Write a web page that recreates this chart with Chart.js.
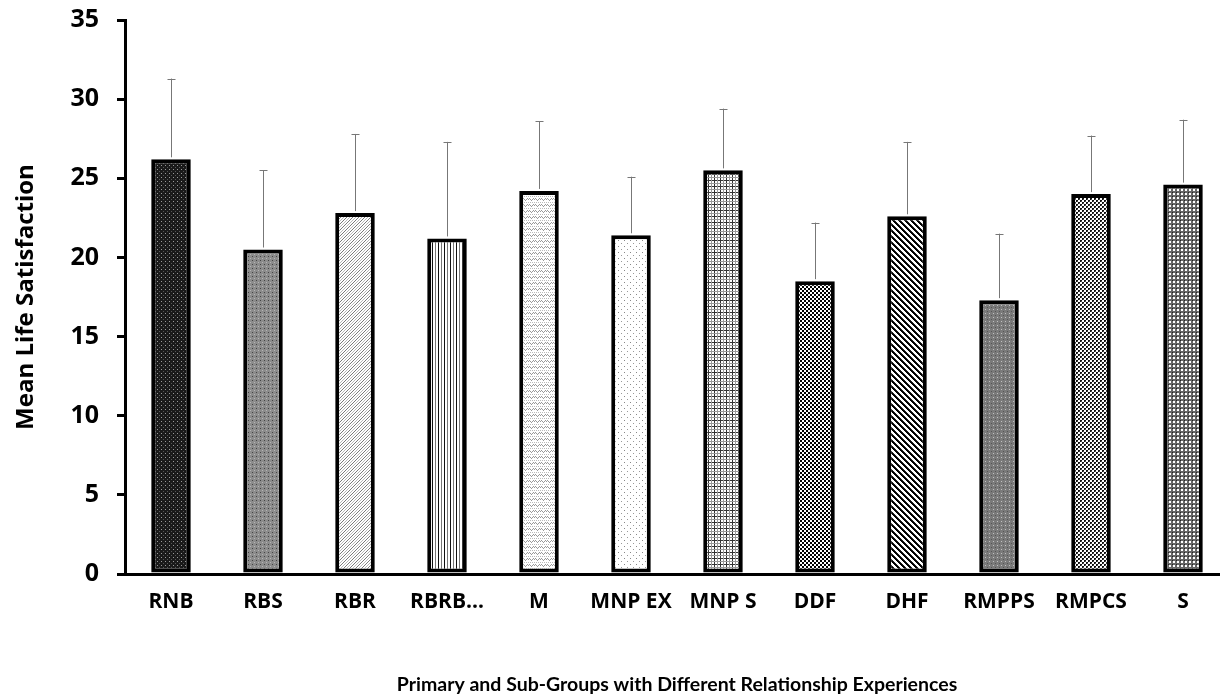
<!DOCTYPE html>
<html>
<head>
<meta charset="utf-8">
<script src="https://cdn.jsdelivr.net/npm/chart.js@4.4.1/dist/chart.umd.min.js"></script>
<style>
  html, body { margin: 0; padding: 0; background: #fff; overflow: hidden; }
  #wrap { width: 1232px; height: 700px; }
</style>
</head>
<body>
<div id="wrap"><canvas id="chart" width="1232" height="700"></canvas></div>
<script>
// groups on the x axis
var categories = ['RNB', 'RBS', 'RBR', 'RBRB…', 'M', 'MNP EX', 'MNP S', 'DDF', 'DHF', 'RMPPS', 'RMPCS', 'S'];
// mean life satisfaction per group
var means = [26.2, 20.5, 22.8, 21.2, 24.2, 21.4, 25.5, 18.5, 22.6, 17.3, 24.0, 24.6];
// upper error bar (standard deviation)
var errors = [5.1, 5.0, 5.0, 6.1, 4.4, 3.7, 3.9, 3.7, 4.7, 4.2, 3.7, 4.1];
// fill pattern for each bar
var patternKinds = ['darkDots', 'grayDots', 'lightDiag', 'vertLines', 'wave', 'sparseDots',
                    'grid', 'checker', 'wideDiag', 'grayDots2', 'checkerSmall', 'grayGrid'];
var yTicks = [0, 5, 10, 15, 20, 25, 30, 35];

// build a small tile and turn it into a canvas pattern
function makePattern(kind) {
    var size = 6;
    if (kind === 'checker' || kind === 'checkerSmall' || kind === 'darkDots' || kind === 'grayDots' ||
        kind === 'grayDots2' || kind === 'grayGrid') {
        size = 4;
    }
    var tile = document.createElement('canvas');
    tile.width = size;
    tile.height = size;
    var c = tile.getContext('2d');
    function px(x, y, col) { c.fillStyle = col; c.fillRect(x, y, 1, 1); }
    c.fillStyle = '#fff';
    c.fillRect(0, 0, size, size);
    var i;
    switch (kind) {
        case 'darkDots':
            c.fillStyle = '#1a1a1a'; c.fillRect(0, 0, 4, 4);
            px(1, 1, '#9a9a9a'); px(3, 3, '#555');
            break;
        case 'grayDots':
            c.fillStyle = '#8c8c8c'; c.fillRect(0, 0, 4, 4);
            px(0, 0, '#444'); px(2, 2, '#b5b5b5');
            break;
        case 'lightDiag':
            for (i = 0; i < 6; i++) { px(i, 5 - i, '#7a7a7a'); px((i + 3) % 6, 5 - i, '#b8b8b8'); }
            break;
        case 'vertLines':
            c.fillStyle = '#111'; c.fillRect(0, 0, 1, 6);
            c.fillStyle = '#777'; c.fillRect(3, 0, 1, 6);
            break;
        case 'wave':
            px(0, 1, '#999'); px(1, 0, '#999'); px(2, 1, '#999'); px(3, 2, '#999'); px(4, 1, '#999'); px(5, 0, '#999');
            px(0, 4, '#bbb'); px(2, 4, '#bbb'); px(4, 4, '#bbb');
            break;
        case 'sparseDots':
            px(0, 0, '#888'); px(3, 3, '#999');
            break;
        case 'grid':
            c.fillStyle = '#333'; c.fillRect(0, 0, 6, 1); c.fillRect(0, 0, 1, 6);
            c.fillStyle = '#999'; c.fillRect(0, 3, 6, 1); c.fillRect(3, 0, 1, 6);
            break;
        case 'checker':
            c.fillStyle = '#000'; c.fillRect(0, 0, 2, 2); c.fillRect(2, 2, 2, 2);
            break;
        case 'checkerSmall':
            c.fillStyle = '#111'; c.fillRect(0, 0, 2, 2); c.fillRect(2, 2, 2, 2);
            px(1, 1, '#555'); px(3, 3, '#555');
            break;
        case 'wideDiag':
            for (i = 0; i < 6; i++) { px(i, i, '#000'); px((i + 1) % 6, i, '#000'); px((i + 2) % 6, i, '#222'); }
            break;
        case 'grayDots2':
            c.fillStyle = '#7a7a7a'; c.fillRect(0, 0, 4, 4);
            px(1, 1, '#c0c0c0'); px(3, 3, '#555');
            break;
        case 'grayGrid':
            c.fillStyle = '#666'; c.fillRect(0, 0, 4, 4);
            c.fillStyle = '#fff'; c.fillRect(1, 1, 2, 2);
            px(0, 0, '#222');
            break;
    }
    return c.createPattern(tile, 'repeat');
}

var fills = patternKinds.map(makePattern);

// draws the upper error bars using the chart's own scales
var errorBarPlugin = {
    id: 'errorBars',
    afterDatasetsDraw: function(chart) {
        var ctx = chart.ctx;
        var meta = chart.getDatasetMeta(0);
        var yScale = chart.scales.y;
        ctx.save();
        ctx.strokeStyle = '#777';
        ctx.lineWidth = 1;
        meta.data.forEach(function(bar, i) {
            var x = Math.round(bar.x) + 0.5;
            var yTop = yScale.getPixelForValue(means[i] + errors[i]);
            var yBase = yScale.getPixelForValue(means[i]) - 2;
            ctx.beginPath();
            ctx.moveTo(x, yBase);
            ctx.lineTo(x, yTop);
            ctx.moveTo(x - 4, Math.round(yTop) + 0.5);
            ctx.lineTo(x + 4, Math.round(yTop) + 0.5);
            ctx.stroke();
        });
        ctx.restore();
    }
};

var chart = new Chart(document.getElementById('chart'), {
    type: 'bar',
    data: {
        labels: categories,
        datasets: [{
            data: means,
            backgroundColor: fills,
            borderColor: '#000',
            borderWidth: 4,
            borderSkipped: false,
            categoryPercentage: 1,
            barPercentage: 0.43
        }]
    },
    options: {
        responsive: false,
        animation: false,
        devicePixelRatio: 1,
        layout: { padding: { top: 20, right: 3, left: 0, bottom: 0 } },
        plugins: {
            legend: { display: false },
            tooltip: { enabled: false }
        },
        scales: {
            x: {
                grid: { display: false, drawTicks: false },
                border: { display: true, color: '#000', width: 3 },
                ticks: {
                    color: '#000',
                    padding: 15,
                    maxRotation: 0,
                    autoSkip: false,
                    font: { family: 'Open Sans', weight: 'bold', size: 21 }
                },
                title: {
                    display: true,
                    text: 'Primary and Sub-Groups with Different Relationship Experiences',
                    color: '#000',
                    padding: { top: 4, bottom: 4 },
                    font: { family: 'Lato', weight: 'bold', size: 19.5 }
                },
                afterFit: function(scale) { scale.height = 126; }
            },
            y: {
                min: 0,
                max: 35,
                afterBuildTicks: function(scale) {
                    scale.ticks = yTicks.map(function(v) { return { value: v }; });
                },
                grid: { display: true, drawOnChartArea: false, drawTicks: true, tickLength: 8, lineWidth: 3, color: '#000' },
                border: { display: true, color: '#000', width: 3 },
                ticks: {
                    color: '#000',
                    padding: 18,
                    // tiny line height so the top label does not push the plot area down
                    font: { family: 'Open Sans', weight: 'bold', size: 25, lineHeight: 0.05 }
                },
                title: {
                    display: true,
                    text: 'Mean Life Satisfaction',
                    color: '#000',
                    padding: { top: 12, bottom: 12 },
                    font: { family: 'Open Sans', weight: 'bold', size: 24 }
                },
                afterFit: function(scale) { scale.width = 125; }
            }
        }
    },
    plugins: [errorBarPlugin]
});
</script>
</body>
</html>
